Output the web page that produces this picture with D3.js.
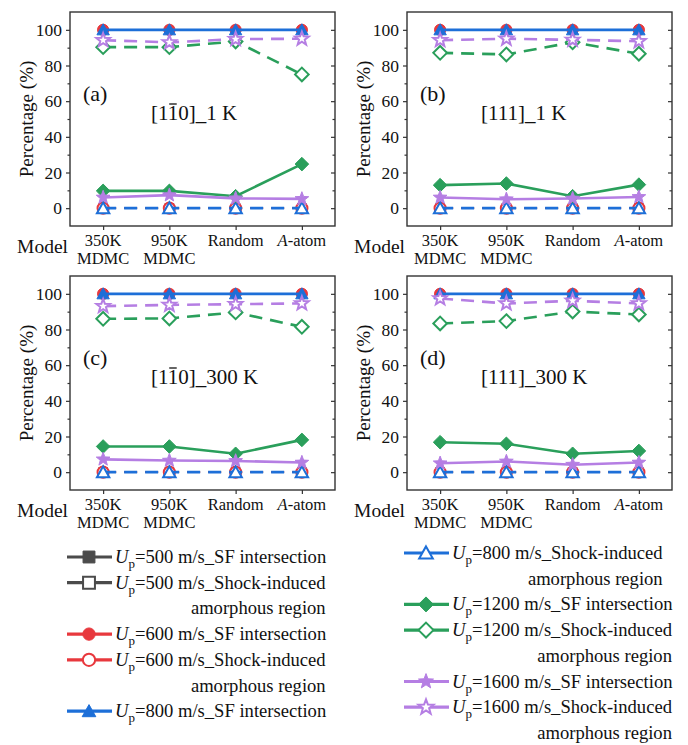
<!DOCTYPE html>
<html><head><meta charset="utf-8">
<script src="https://cdn.jsdelivr.net/npm/d3@7"></script>
<style>
body{margin:0;background:#fff}
svg text{font-family:'Liberation Serif','DejaVu Serif',serif !important;fill:#111}
</style>
</head><body>
<svg id="chart" width="688" height="745" font-family="Liberation Serif"></svg>
<script>
// ---------------- data ----------------
const categories = ["350K|MDMC", "950K|MDMC", "Random", "A-atom"];
const panelLabels = ["(a)", "(b)", "(c)", "(d)"];
const panelTitles = ["[1~1~0]_1 K", "[111]_1 K", "[1~1~0]_300 K", "[111]_300 K"];
const yTicks = [0, 20, 40, 60, 80, 100];
const yMinorTicks = [10, 30, 50, 70, 90];
const yDomain = [-10, 110];

// values per panel (a, b, c, d), per category
const sf500  = [[100,100,100,100],[100,100,100,100],[100,100,100,100],[100,100,100,100]];
const am500  = [[0,0,0,0],[0,0,0,0],[0,0,0,0],[0,0,0,0]];
const sf600  = [[100,100,100,100],[100,100,100,100],[100,100,100,100],[100,100,100,100]];
const am600  = [[0,0,0,0],[0,0,0,0],[0,0,0,0],[0,0,0,0]];
const sf800  = [[100,100,100,100],[100,100,100,100],[100,100,100,100],[100,100,100,100]];
const am800  = [[0,0,0,0],[0,0,0,0],[0,0,0,0],[0,0,0,0]];
const sf1200 = [[9.7,9.7,6.7,24.7],[12.9,13.8,6.7,13.2],[14.4,14.4,10.3,18.1],[16.8,15.9,10.3,11.9]];
const am1200 = [[90.3,90.3,93.5,75],[87.1,86.2,93,86.6],[86,86.2,89.6,81.5],[83.4,84.7,90.1,88.4]];
const sf1600 = [[6,7.3,5.5,5.2],[6,5,5.4,6.3],[7.2,6.5,6.3,5.4],[5,6,4.2,5.4]];
const am1600 = [[94.2,93,94.8,95],[94.2,95,94.4,93.6],[93.1,93.8,94.2,94.6],[97.4,94.6,96.1,94.6]];

const speeds = [500, 500, 600, 600, 800, 800, 1200, 1200, 1600, 1600];
const kinds  = ["SF","AM","SF","AM","SF","AM","SF","AM","SF","AM"];
const seriesValues = [sf500, am500, sf600, am600, sf800, am800, sf1200, am1200, sf1600, am1600];
const seriesColors = ["#4b4b4b","#4b4b4b","#e8383d","#e8383d","#1d6fd8","#1d6fd8","#2a9f5b","#2a9f5b","#b57ee3","#b57ee3"];
const seriesShapes = ["square","square","circle","circle","triangle","triangle","diamond","diamond","star","star"];

// ---------------- layout ----------------
const svg = d3.select("#chart");
const lefts = [70, 407], tops = [12, 276];
const PW = 265, PH = 214;
const FONT = "Liberation Serif";

function shapePath(shape, k, legend) {
  if (shape === "square") { const r = (legend ? 5.4 : 3.8)*k; return `M${-r},${-r}H${r}V${r}H${-r}Z`; }
  if (shape === "circle") { const r = 5.6*k; return `M${r},0A${r},${r} 0 1,1 ${-r},0A${r},${r} 0 1,1 ${r},0Z`; }
  if (shape === "triangle") { const a = 6.2*k; return `M0,${-6*k}L${a},${5*k}L${-a},${5*k}Z`; }
  if (shape === "diamond") { const r = 6.8*k; return `M0,${-r}L${r},0L0,${r}L${-r},0Z`; }
  if (shape === "star") {
    const R = 7.2*k, ri = 3.0*k; let p = "";
    for (let i = 0; i < 10; i++) {
      const rr = i % 2 ? ri : R, ang = -Math.PI/2 + i*Math.PI/5;
      p += (i ? "L" : "M") + (rr*Math.cos(ang)).toFixed(2) + "," + (rr*Math.sin(ang)).toFixed(2);
    }
    return p + "Z";
  }
}

function drawMarker(g, shape, color, hollow, x, y, k, legend) {
  g.append("path").attr("d", shapePath(shape, k, legend))
    .attr("transform", `translate(${x},${y})`)
    .attr("fill", hollow ? "#fff" : color)
    .attr("stroke", color)
    .attr("stroke-width", hollow ? 2 : 1)
    .attr("stroke-linejoin", "miter");
}

function styleText(sel, size) {
  return sel.attr("font-family", FONT).attr("font-size", size).attr("fill", "#111");
}

for (let p = 0; p < 4; p++) {
  const col = p % 2, row = Math.floor(p / 2);
  const left = lefts[col], top = tops[row], right = left + PW, bottom = top + PH;
  const g = svg.append("g");
  const x = d3.scalePoint().domain(categories).range([left, right]).padding(0.5);
  const y = d3.scaleLinear().domain(yDomain).range([bottom, top]);

  // series (lower speeds are hidden beneath 800 m/s, drawn thinner so no fringe shows)
  for (let s = 0; s < seriesValues.length; s++) {
    const vals = seriesValues[s][p];
    const color = seriesColors[s];
    const hollow = kinds[s] === "AM";
    const line = d3.line().x((d, i) => x(categories[i])).y(d => y(d));
    g.append("path").datum(vals).attr("d", line)
      .attr("fill", "none").attr("stroke", color)
      .attr("stroke-width", speeds[s] < 800 ? 1.6 : 2.6)
      .attr("stroke-dasharray", hollow ? "13,8" : null);
    vals.forEach((v, i) => drawMarker(g, seriesShapes[s], color, hollow, x(categories[i]), y(v), 1, false));
  }

  // frame
  g.append("rect").attr("x", left).attr("y", top).attr("width", PW).attr("height", PH)
    .attr("fill", "none").attr("stroke", "#333").attr("stroke-width", 1.4);

  // left axis
  const la = g.append("g").attr("transform", `translate(${left},0)`)
    .call(d3.axisLeft(y).tickValues(yTicks).tickSize(4).tickPadding(4));
  la.attr("font-family", FONT);
  la.select(".domain").remove();
  styleText(la.selectAll("text"), 17.5);
  la.selectAll("line").attr("stroke", "#333").attr("stroke-width", 1.2);
  const lm = g.append("g").attr("transform", `translate(${left},0)`)
    .call(d3.axisLeft(y).tickValues(yMinorTicks).tickSize(2.5).tickFormat(""));
  lm.select(".domain").remove();
  lm.selectAll("line").attr("stroke", "#333").attr("stroke-width", 1.2);

  // right axis (inward, no labels)
  const ra = g.append("g").attr("transform", `translate(${right},0)`)
    .call(d3.axisRight(y).tickValues(yTicks).tickSize(-4).tickFormat(""));
  ra.select(".domain").remove();
  ra.selectAll("line").attr("stroke", "#333").attr("stroke-width", 1.2);
  const rm = g.append("g").attr("transform", `translate(${right},0)`)
    .call(d3.axisRight(y).tickValues(yMinorTicks).tickSize(-2.5).tickFormat(""));
  rm.select(".domain").remove();
  rm.selectAll("line").attr("stroke", "#333").attr("stroke-width", 1.2);

  // bottom axis
  const ba = g.append("g").attr("transform", `translate(0,${bottom})`)
    .call(d3.axisBottom(x).tickSize(4).tickFormat(""));
  ba.select(".domain").remove();
  ba.selectAll("line").attr("stroke", "#333").attr("stroke-width", 1.2);

  // bottom labels
  categories.forEach(c => {
    const parts = c.split("|");
    parts.forEach((t, j) => {
      const tx = styleText(g.append("text"), 16.5).attr("x", x(c)).attr("y", bottom + 19.5 + j*18.6)
        .attr("text-anchor", "middle");
      if (t === "A-atom") {
        tx.append("tspan").attr("font-style", "italic").text("A");
        tx.append("tspan").text("-atom");
      } else tx.text(t);
    });
  });
  styleText(g.append("text"), 19.5).attr("x", left - 2).attr("y", bottom + 27).attr("text-anchor", "end")
    .text("Model");

  // y label
  styleText(g.append("text"), 19)
    .attr("transform", `translate(${left - 44},${(top + bottom)/2}) rotate(-90)`)
    .attr("text-anchor", "middle").attr("dy", "0.35em").text("Percentage (%)");

  // panel label & title
  styleText(g.append("text"), 22).attr("x", left + 13).attr("y", top + 89).text(panelLabels[p]);
  const titleParts = panelTitles[p].split("~");
  const tt = styleText(g.append("text"), 21).attr("x", left + (col === 0 ? 81 : 74)).attr("y", top + 108);
  if (titleParts.length === 3) {
    tt.append("tspan").text(titleParts[0]);
    tt.append("tspan").text(titleParts[1]);
    tt.append("tspan").text(titleParts[2]);
    const ext = tt.node().getExtentOfChar(titleParts[0].length);
    g.append("line").attr("x1", ext.x + 1.5).attr("x2", ext.x + ext.width - 1.5)
      .attr("y1", ext.y + 3).attr("y2", ext.y + 3)
      .attr("stroke", "#111").attr("stroke-width", 1.3);
  } else tt.text(panelTitles[p]);
}

// ---------------- legend ----------------
const legendCols = [
  {tx: 115, base: 563, items: [[0,0],[1,1],[2,3],[3,4],[4,6]]},
  {tx: 452, base: 559, items: [[5,0],[6,2],[7,3],[8,5],[9,6]]}
];
const STEP = 25.7;
legendCols.forEach(lc => {
  lc.items.forEach(([s, r]) => {
    const by = lc.base + r*STEP;
    const cy = by - 6;
    const color = seriesColors[s];
    const lg = svg.append("g");
    lg.append("line").attr("x1", lc.tx - 48).attr("x2", lc.tx - 3).attr("y1", cy).attr("y2", cy)
      .attr("stroke", color).attr("stroke-width", 3.2);
    drawMarker(lg, seriesShapes[s], color, kinds[s] === "AM", lc.tx - 26, cy, 1.1, true);
    const t = styleText(lg.append("text"), 18.6).attr("x", lc.tx).attr("y", by);
    t.append("tspan").attr("font-style", "italic").text("U");
    t.append("tspan").attr("font-size", 13).attr("dy", 5).text("p");
    t.append("tspan").attr("dy", -5).text(`=${speeds[s]} m/s_` + (kinds[s] === "SF" ? "SF intersection" : "Shock-induced"));
    if (kinds[s] === "AM") {
      const w = t.node().getComputedTextLength();
      styleText(lg.append("text"), 18.6).attr("x", lc.tx + w).attr("y", by + STEP).attr("text-anchor", "end")
        .text("amorphous region");
    }
  });
});
</script>
</body></html>
